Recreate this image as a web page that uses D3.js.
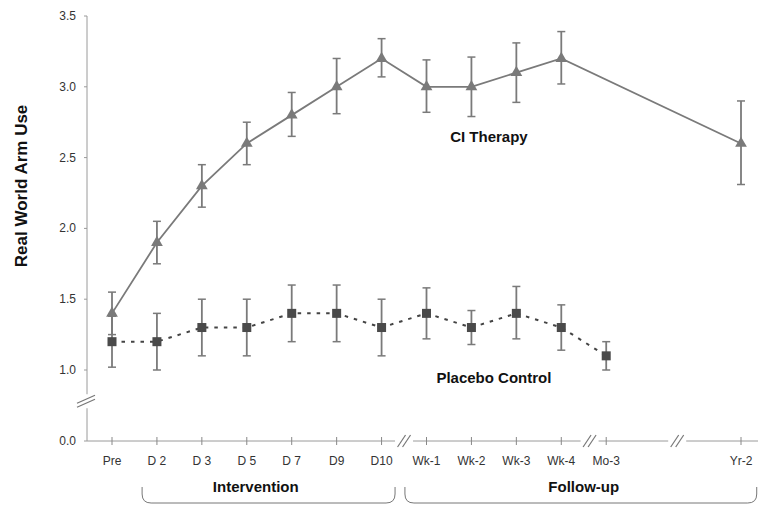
<!DOCTYPE html>
<html>
<head>
<meta charset="utf-8">
<script src="https://cdn.jsdelivr.net/npm/d3@7"></script>
<style>
  html, body { margin: 0; padding: 0; background: #fff; }
  svg { display: block; }
  text { font-family: Arial, "Liberation Sans", Helvetica, sans-serif; }
</style>
</head>
<body>
<svg id="chart" width="758" height="505"></svg>
<script>
// ---------- data ----------
const categories   = ["Pre", "D 2", "D 3", "D 5", "D 7", "D9", "D10", "Wk-1", "Wk-2", "Wk-3", "Wk-4", "Mo-3", "Yr-2"];
const positions    = [0, 1, 2, 3, 4, 5, 6, 7, 8, 9, 10, 11, 14];

const ciValues     = [1.4, 1.9, 2.3, 2.6, 2.8, 3.0, 3.2, 3.0, 3.0, 3.1, 3.2, null, 2.6];
const ciLow        = [1.25, 1.75, 2.15, 2.45, 2.65, 2.81, 3.07, 2.82, 2.79, 2.89, 3.02, null, 2.31];
const ciHigh       = [1.55, 2.05, 2.45, 2.75, 2.96, 3.2, 3.34, 3.19, 3.21, 3.31, 3.39, null, 2.9];

const placeboValues = [1.2, 1.2, 1.3, 1.3, 1.4, 1.4, 1.3, 1.4, 1.3, 1.4, 1.3, 1.1, null];
const placeboLow    = [1.02, 1.0, 1.1, 1.1, 1.2, 1.2, 1.1, 1.22, 1.18, 1.22, 1.14, 1.0, null];
const placeboHigh   = [1.38, 1.4, 1.5, 1.5, 1.6, 1.6, 1.5, 1.58, 1.42, 1.59, 1.46, 1.2, null];

const yTicks       = [0, 1.0, 1.5, 2.0, 2.5, 3.0, 3.5];
const xBreaks      = [6.5, 10.63, 12.58];
const yBreak       = 0.56;

const groups = [
  { label: "Intervention", from: 0.67, to: 6.3,  center: 3.2 },
  { label: "Follow-up",    from: 6.52, to: 14.35, center: 10.5 }
];
const seriesLabels = [
  { label: "CI Therapy",      pos: 8.39, value: 2.61 },
  { label: "Placebo Control", pos: 8.5,  value: 0.82 }
];

// ---------- scales ----------
const svg = d3.select("#chart");
const x = d3.scaleLinear().domain([0, 14]).range([112, 741]);
const y = d3.scaleLinear().domain([0, 1, 3.5]).range([441, 370, 16]);
const axisX = 87;
const axisY = y(0);

const axisColor = "#9a9a9a";
const textColor = "#333";

// ---------- y axis ----------
const yAxisG = svg.append("g");
const yb = y(yBreak);
yAxisG.append("line").attr("x1", axisX).attr("x2", axisX)
  .attr("y1", y(3.5)).attr("y2", yb - 7).attr("stroke", axisColor);
yAxisG.append("line").attr("x1", axisX).attr("x2", axisX)
  .attr("y1", yb + 7).attr("y2", axisY).attr("stroke", axisColor);
[-2, 2].forEach(o => {
  yAxisG.append("line")
    .attr("x1", axisX - 10).attr("y1", yb + o + 4)
    .attr("x2", axisX + 8).attr("y2", yb + o - 4)
    .attr("stroke", "#777").attr("stroke-width", 1.2);
});
yTicks.forEach(t => {
  yAxisG.append("line").attr("x1", axisX - 3).attr("x2", axisX)
    .attr("y1", y(t)).attr("y2", y(t)).attr("stroke", axisColor);
  yAxisG.append("text").attr("x", 76).attr("y", y(t) + 4)
    .attr("text-anchor", "end").attr("font-size", 12).attr("fill", textColor)
    .text(d3.format(".1f")(t));
});
svg.append("text")
  .attr("transform", `translate(27,${y(2.3)}) rotate(-90)`)
  .attr("text-anchor", "middle").attr("font-size", 17).attr("font-weight", "bold")
  .attr("fill", "#111").text("Real World Arm Use");

// ---------- x axis ----------
const xAxisG = svg.append("g");
const segs = [];
let start = axisX;
xBreaks.forEach(b => {
  segs.push([start, x(b) - 9]);
  start = x(b) + 9;
});
segs.push([start, 758]);
segs.forEach(s => {
  xAxisG.append("line").attr("x1", s[0]).attr("x2", s[1])
    .attr("y1", axisY).attr("y2", axisY).attr("stroke", axisColor);
});
xBreaks.forEach(b => {
  [-2.5, 2.5].forEach(o => {
    xAxisG.append("line")
      .attr("x1", x(b) + o - 4).attr("y1", axisY + 6)
      .attr("x2", x(b) + o + 4).attr("y2", axisY - 6)
      .attr("stroke", "#777").attr("stroke-width", 1.2);
  });
});
categories.forEach((c, i) => {
  xAxisG.append("line").attr("x1", x(positions[i])).attr("x2", x(positions[i]))
    .attr("y1", axisY - 4).attr("y2", axisY + 4).attr("stroke", "#888");
  xAxisG.append("text").attr("x", x(positions[i])).attr("y", axisY + 24)
    .attr("text-anchor", "middle").attr("font-size", 12).attr("fill", textColor)
    .text(c);
});

// ---------- group braces ----------
groups.forEach(g => {
  const x0 = x(g.from), x1 = x(g.to), top = 487, bot = 503, r = 9;
  svg.append("path")
    .attr("d", `M${x0},${top} L${x0},${bot - r} Q${x0},${bot} ${x0 + r},${bot} L${x1 - r},${bot} Q${x1},${bot} ${x1},${bot - r} L${x1},${top}`)
    .attr("fill", "none").attr("stroke", "#777").attr("stroke-width", 1);
  svg.append("text").attr("x", x(g.center)).attr("y", 492)
    .attr("text-anchor", "middle").attr("font-size", 15).attr("font-weight", "bold")
    .attr("fill", "#111").text(g.label);
});

// ---------- series ----------
function errorBars(vals, lo, hi, color) {
  const g = svg.append("g");
  vals.forEach((v, i) => {
    if (v == null) return;
    const cx = x(positions[i]);
    g.append("line").attr("x1", cx).attr("x2", cx).attr("y1", y(lo[i])).attr("y2", y(hi[i]))
      .attr("stroke", color).attr("stroke-width", 1.8);
    [lo[i], hi[i]].forEach(e => {
      g.append("line").attr("x1", cx - 4).attr("x2", cx + 4).attr("y1", y(e)).attr("y2", y(e))
        .attr("stroke", color).attr("stroke-width", 1.5);
    });
  });
}

const pIdx = placeboValues.map((v, i) => i).filter(i => placeboValues[i] != null);
const cIdx = ciValues.map((v, i) => i).filter(i => ciValues[i] != null);

errorBars(placeboValues, placeboLow, placeboHigh, "#7a7a7a");
svg.append("path")
  .datum(pIdx)
  .attr("d", d3.line().x(i => x(positions[i])).y(i => y(placeboValues[i])))
  .attr("fill", "none").attr("stroke", "#444").attr("stroke-width", 2)
  .attr("stroke-dasharray", "3.5,6");
svg.append("g").selectAll("rect").data(pIdx).join("rect")
  .attr("x", i => x(positions[i]) - 4.5).attr("y", i => y(placeboValues[i]) - 4.5)
  .attr("width", 9).attr("height", 9).attr("fill", "#4a4a4a");

errorBars(ciValues, ciLow, ciHigh, "#7a7a7a");
svg.append("path")
  .datum(cIdx)
  .attr("d", d3.line().x(i => x(positions[i])).y(i => y(ciValues[i])))
  .attr("fill", "none").attr("stroke", "#7a7a7a").attr("stroke-width", 1.8);
const tri = d3.symbol().type(d3.symbolTriangle).size(60);
svg.append("g").selectAll("path").data(cIdx).join("path")
  .attr("transform", i => `translate(${x(positions[i])},${y(ciValues[i])})`)
  .attr("d", tri).attr("fill", "#7a7a7a");

// ---------- series labels ----------
seriesLabels.forEach(s => {
  svg.append("text").attr("x", x(s.pos)).attr("y", y(s.value))
    .attr("text-anchor", "middle").attr("font-size", 15).attr("font-weight", "bold")
    .attr("fill", "#111").text(s.label);
});
</script>
</body>
</html>
